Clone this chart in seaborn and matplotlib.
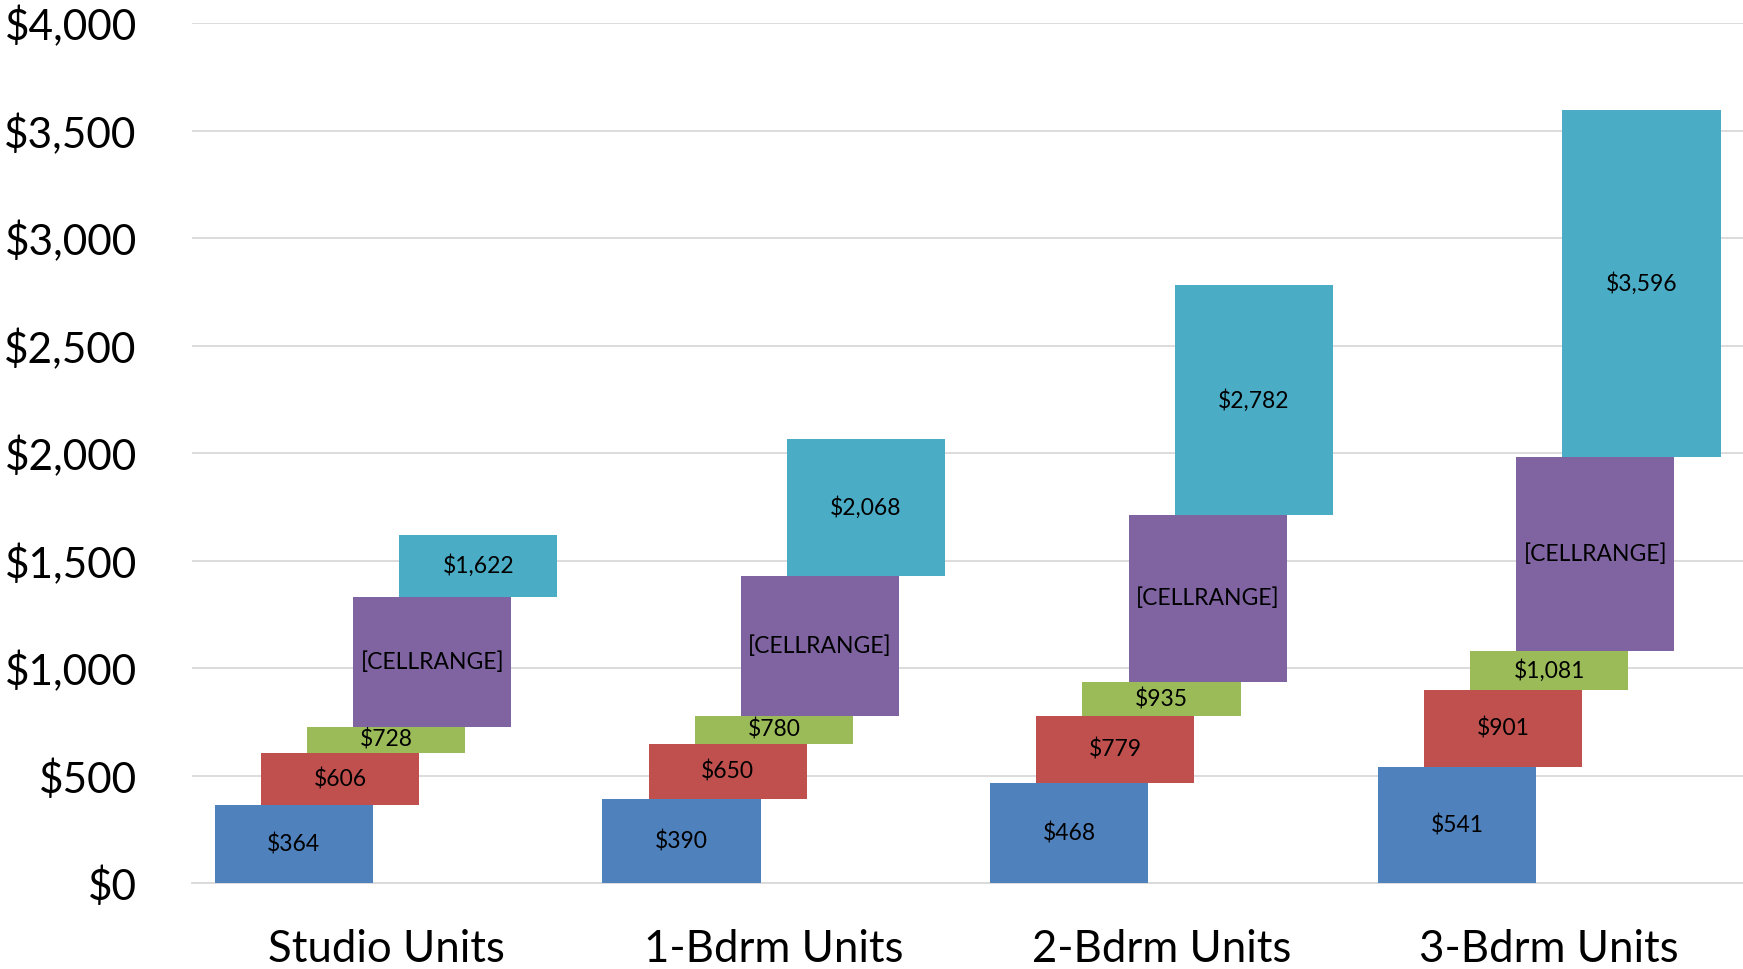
import pandas as pd
import seaborn as sns
import matplotlib.pyplot as plt

# Data: cumulative top of each floating segment
categories = ["Studio Units", "1-Bdrm Units", "2-Bdrm Units", "3-Bdrm Units"]
tops_1 = [364, 390, 468, 541]
tops_2 = [606, 650, 779, 901]
tops_3 = [728, 780, 935, 1081]
tops_4 = [1333, 1429, 1713, 1981]
tops_5 = [1622, 2068, 2782, 3596]

series = [tops_1, tops_2, tops_3, tops_4, tops_5]
colors = ["#4F81BD", "#C0504D", "#9BBB59", "#8064A2", "#4BACC6"]
offsets = [-0.238, -0.119, 0.0, 0.119, 0.238]
bar_width = 0.408

sns.set_theme(style="white")
plt.rcParams["font.family"] = ["Lato", "DejaVu Sans"]

fig = plt.figure(figsize=(17.43, 9.69), dpi=100)
ax = fig.add_axes([0.1103, 0.0884, 0.8897, 0.8876])

prev = [0] * len(categories)
for i, tops in enumerate(series):
    df = pd.DataFrame({
        "pos": [k + offsets[i] for k in range(len(categories))],
        "height": [t - b for t, b in zip(tops, prev)],
    })
    sns.barplot(data=df, x="pos", y="height", native_scale=True,
                width=bar_width, color=colors[i], saturation=1,
                errorbar=None, bottom=prev, linewidth=0, ax=ax, zorder=3)
    if i == 3:
        labels = ["[CELLRANGE]"] * len(tops)
    else:
        labels = [f"${t:,}" for t in tops]
    ax.bar_label(ax.containers[-1], labels=labels, label_type="center",
                 fontsize=16.5, color="black")
    prev = tops

ax.set_xlim(-0.5, len(categories) - 0.5)
ax.set_ylim(0, 4000)
ax.set_xticks(range(len(categories)))
ax.set_xticklabels(categories, fontsize=31.5, color="black")
ax.set_yticks(range(0, 4001, 500))
ax.set_yticklabels([f"${v:,}" for v in range(0, 4001, 500)],
                   fontsize=30.5, color="black")
ax.tick_params(axis="y", length=0, pad=40)
ax.tick_params(axis="x", length=0, pad=33)
ax.set_xlabel("")
ax.set_ylabel("")

ax.yaxis.grid(True, color="#D9D9D9", linewidth=1.3, zorder=0)
ax.set_axisbelow(True)
for side in ["top", "right", "left"]:
    ax.spines[side].set_visible(False)
ax.spines["bottom"].set_color("#D9D9D9")
ax.spines["bottom"].set_linewidth(1.3)

fig.savefig("out.png", dpi=100)
